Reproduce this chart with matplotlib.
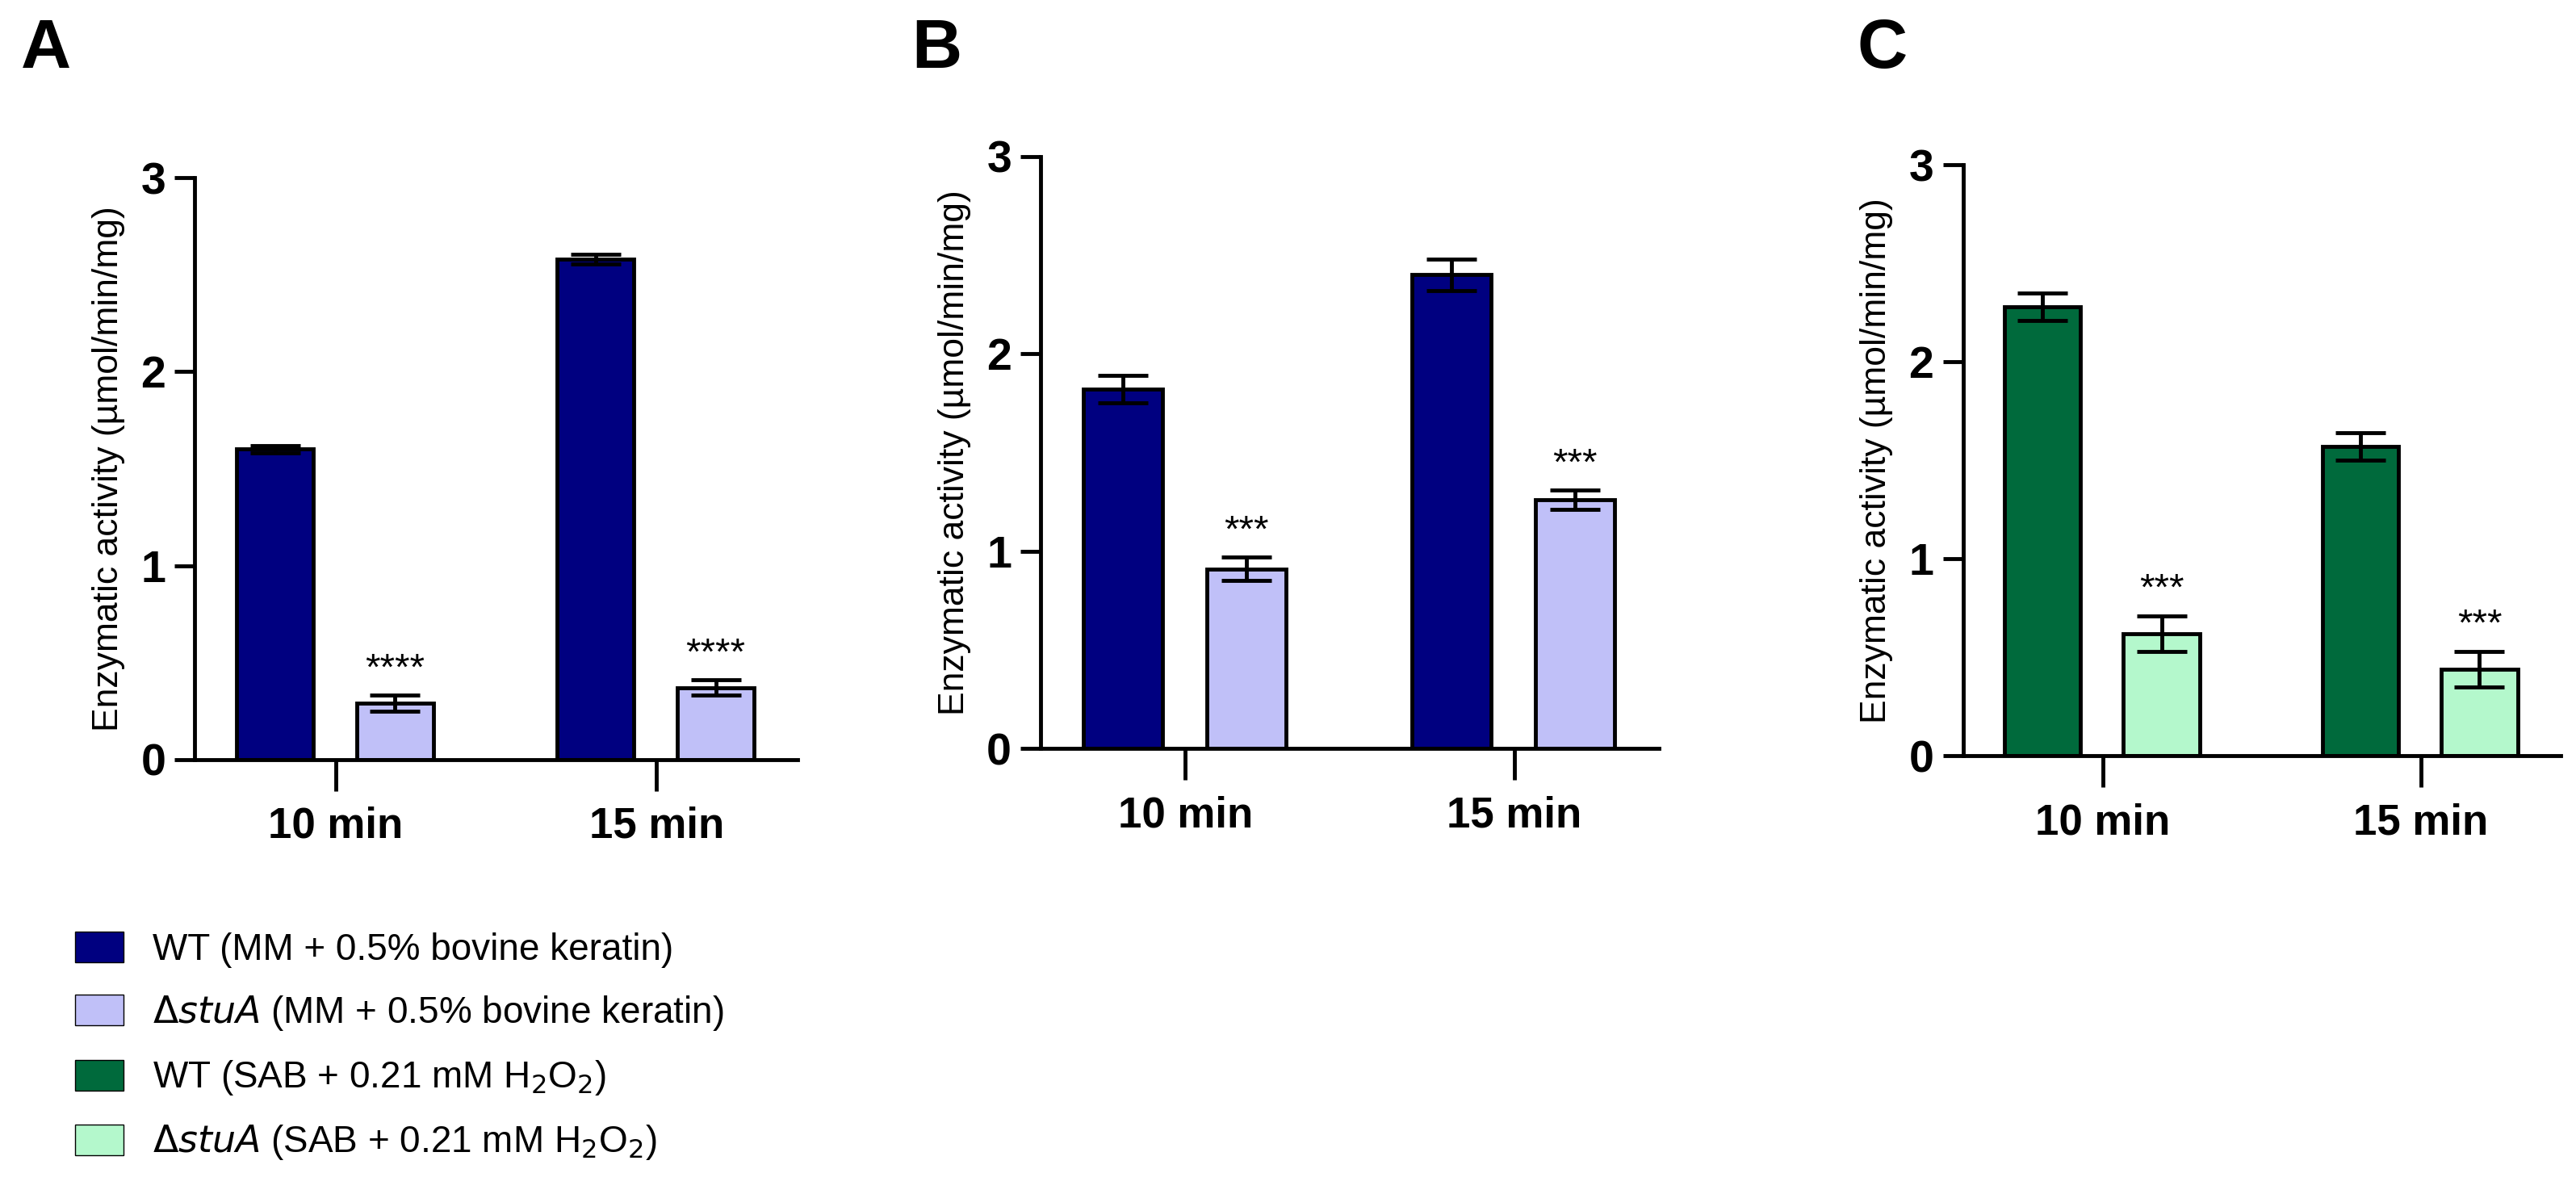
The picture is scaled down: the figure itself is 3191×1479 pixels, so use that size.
import numpy as np
import matplotlib.pyplot as plt
from matplotlib.patches import Patch

# data
categories = ['10 min', '15 min']
wt_a = [1.60, 2.58]
wt_a_err = [0.02, 0.025]
mut_a = [0.29, 0.37]
mut_a_err = [0.04, 0.04]
wt_b = [1.82, 2.40]
wt_b_err = [0.07, 0.08]
mut_b = [0.91, 1.26]
mut_b_err = [0.06, 0.05]
wt_c = [2.28, 1.57]
wt_c_err = [0.07, 0.07]
mut_c = [0.62, 0.44]
mut_c_err = [0.09, 0.09]
stars_a = ['****', '****']
stars_b = ['***', '***']
stars_c = ['***', '***']

NAVY = '#000080'
LAVENDER = '#c0c0f8'
GREEN = '#006a3c'
MINT = '#b4f8cc'

plt.rcParams['font.family'] = 'Liberation Sans'
fig = plt.figure(figsize=(31.91, 14.79), dpi=100)

panels = [
    ('A', 0.008, [0.0756, 0.364, 0.234, 0.487], wt_a, wt_a_err, mut_a, mut_a_err, stars_a, NAVY, LAVENDER),
    ('B', 0.354, [0.404, 0.373, 0.240, 0.496], wt_b, wt_b_err, mut_b, mut_b_err, stars_b, NAVY, LAVENDER),
    ('C', 0.721, [0.762, 0.367, 0.232, 0.495], wt_c, wt_c_err, mut_c, mut_c_err, stars_c, GREEN, MINT),
]

x = np.arange(len(categories))
w = 0.24
ekw = dict(ecolor='black', elinewidth=3.5, capsize=22, capthick=3.5)
for letter, lx, rect, wt, wte, mu, mue, stars, c1, c2 in panels:
    ax = fig.add_axes(rect)
    ax.bar(x - 0.19, wt, w, color=c1, edgecolor='black', linewidth=3.5, yerr=wte, error_kw=ekw)
    ax.bar(x + 0.185, mu, w, color=c2, edgecolor='black', linewidth=3.5, yerr=mue, error_kw=ekw)
    for xi, m, e, s in zip(x, mu, mue, stars):
        ax.text(xi + 0.185, m + e + 0.04, s, ha='center', va='bottom', fontsize=34)
    ax.set_xlim(-0.44, 1.44)
    ax.set_ylim(0, 3)
    ax.set_yticks([0, 1, 2, 3])
    ax.set_xticks(x)
    ax.set_xticklabels(categories, fontsize=38, fontweight='bold')
    ax.tick_params(axis='y', labelsize=40, width=3.5, length=18, pad=8)
    ax.tick_params(axis='x', width=3.5, length=28, pad=14)
    for lbl in ax.get_yticklabels():
        lbl.set_fontweight('bold')
    ax.spines['top'].set_visible(False)
    ax.spines['right'].set_visible(False)
    ax.spines['left'].set_linewidth(3.5)
    ax.spines['bottom'].set_linewidth(3.5)
    ax.set_ylabel('Enzymatic activity (µmol/min/mg)', fontsize=32, labelpad=14)
    fig.text(lx, 0.985, letter, fontsize=62, fontweight='bold', va='top')

handles = [
    Patch(facecolor=NAVY, edgecolor='black', label='WT (MM + 0.5% bovine keratin)'),
    Patch(facecolor=LAVENDER, edgecolor='black', label=r'$\Delta$$\it{stuA}$ (MM + 0.5% bovine keratin)'),
    Patch(facecolor=GREEN, edgecolor='black', label=r'WT (SAB + 0.21 mM H$_2$O$_2$)'),
    Patch(facecolor=MINT, edgecolor='black', label=r'$\Delta$$\it{stuA}$ (SAB + 0.21 mM H$_2$O$_2$)'),
]
fig.legend(handles=handles, loc='upper left', bbox_to_anchor=(0.022, 0.235), frameon=False,
           fontsize=33, labelspacing=0.7, handlelength=1.3, handleheight=0.9, borderpad=0)

fig.savefig('out.png', dpi=100)
